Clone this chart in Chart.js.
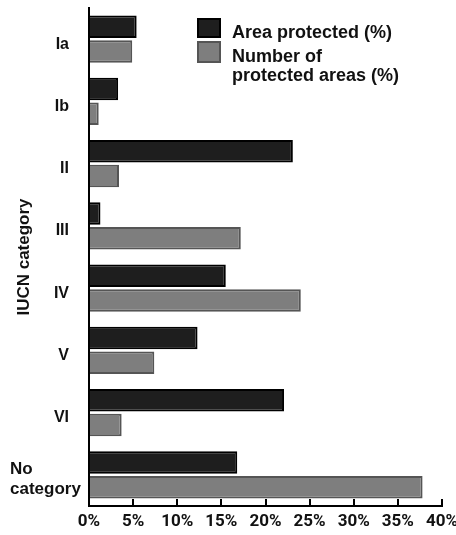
<!DOCTYPE html>
<html>
<head>
<meta charset="utf-8">
<script src="https://cdn.jsdelivr.net/npm/chart.js@4/dist/chart.umd.min.js"></script>
<style>
  html, body { margin: 0; padding: 0; background: #ffffff; }
  #wrap { width: 456px; height: 535px; position: relative; }
</style>
</head>
<body>
<div id="wrap"><canvas id="c" width="456" height="535"></canvas></div>
<script>
// ---- Data ----
const categories = ['Ia', 'Ib', 'II', 'III', 'IV', 'V', 'VI', ['No', 'category']];
const areaProtected = [5.4, 3.3, 23.1, 1.3, 15.5, 12.3, 22.1, 16.8];
const numberOfAreas = [4.9, 1.1, 3.4, 17.2, 24.0, 7.4, 3.7, 37.8];
const xTickValues = [0, 5, 10, 15, 20, 25, 30, 35, 40];
const seriesNames = ['Area protected (%)', ['Number of', 'protected areas (%)']];
const axisTitle = 'IUCN category';

const SANS = '"Liberation Sans", Arial, sans-serif';
const TICKFONT = 'Roboto, "Liberation Sans", sans-serif';

const customDraw = {
  id: 'customDraw',
  afterDraw(chart) {
    const { ctx, scales: { y }, chartArea } = chart;
    ctx.save();
    ctx.fillStyle = '#111';
    // category labels
    chart.data.labels.forEach((lab, i) => {
      const yc = y.getPixelForValue(i);
      if (Array.isArray(lab)) {
        ctx.font = 'bold 17px ' + SANS;
        ctx.textAlign = 'left';
        ctx.textBaseline = 'alphabetic';
        lab.forEach((ln, k) => ctx.fillText(ln, 10, yc - 1 + k * 20));
      } else {
        ctx.font = 'bold 16px ' + SANS;
        ctx.textAlign = 'right';
        ctx.textBaseline = 'middle';
        ctx.fillText(lab, 69, yc + 5);
      }
    });
    // y axis title
    ctx.save();
    ctx.translate(24, (chartArea.top + chartArea.bottom) / 2);
    ctx.rotate(-Math.PI / 2);
    ctx.font = 'bold 17px ' + SANS;
    ctx.textAlign = 'center';
    ctx.textBaseline = 'middle';
    ctx.fillText(axisTitle, 0, 0);
    ctx.restore();
    // legend
    const ds = chart.data.datasets;
    const boxes = [[197, 18, 24, 20], [197, 41, 24, 22]];
    ds.forEach((d, i) => {
      const [bx, by, bw, bh] = boxes[i];
      ctx.fillStyle = d.backgroundColor;
      ctx.fillRect(bx, by, bw, bh);
      ctx.strokeStyle = d.borderColor;
      ctx.lineWidth = 2;
      ctx.strokeRect(bx + 1, by + 1, bw - 2, bh - 2);
    });
    ctx.fillStyle = '#111';
    ctx.font = 'bold 18px ' + SANS;
    ctx.textAlign = 'left';
    ctx.textBaseline = 'alphabetic';
    ctx.fillText(seriesNames[0], 232, 38);
    seriesNames[1].forEach((ln, k) => ctx.fillText(ln, 232, 62 + k * 19));
    ctx.restore();
  }
};

new Chart(document.getElementById('c'), {
  type: 'bar',
  data: {
    labels: categories,
    datasets: [
      {
        label: 'Area protected (%)',
        data: areaProtected,
        backgroundColor: '#1e1e1e',
        borderColor: '#000000',
        borderWidth: 2,
        categoryPercentage: 0.8,
        barPercentage: 0.9
      },
      {
        label: 'Number of protected areas (%)',
        data: numberOfAreas,
        backgroundColor: '#7e7e7e',
        borderColor: '#555555',
        borderWidth: 2,
        categoryPercentage: 0.8,
        barPercentage: 0.9
      }
    ]
  },
  options: {
    indexAxis: 'y',
    responsive: false,
    animation: false,
    layout: { padding: { left: 89, right: 14, top: 8, bottom: 0 } },
    plugins: { legend: { display: false }, tooltip: { enabled: false } },
    scales: {
      x: {
        min: 0,
        max: 40,
        afterBuildTicks: s => { s.ticks = xTickValues.map(v => ({ value: v })); },
        ticks: {
          callback: v => v + '%',
          font: { family: TICKFONT, size: 17, weight: 'bold' },
          color: '#111',
          padding: 13,
          maxRotation: 0,
          autoSkip: false
        },
        grid: { display: true, drawOnChartArea: false, drawTicks: true, tickLength: -7, color: '#000', lineWidth: 2 },
        border: { display: true, color: '#000', width: 2 },
        afterFit: s => { s.height = 29; s.paddingLeft = 0; s.paddingRight = 0; }
      },
      y: {
        ticks: { display: false },
        grid: { display: false },
        border: { display: true, color: '#000', width: 2 },
        afterFit: s => { s.width = 0; }
      }
    }
  },
  plugins: [customDraw]
});
</script>
</body>
</html>
